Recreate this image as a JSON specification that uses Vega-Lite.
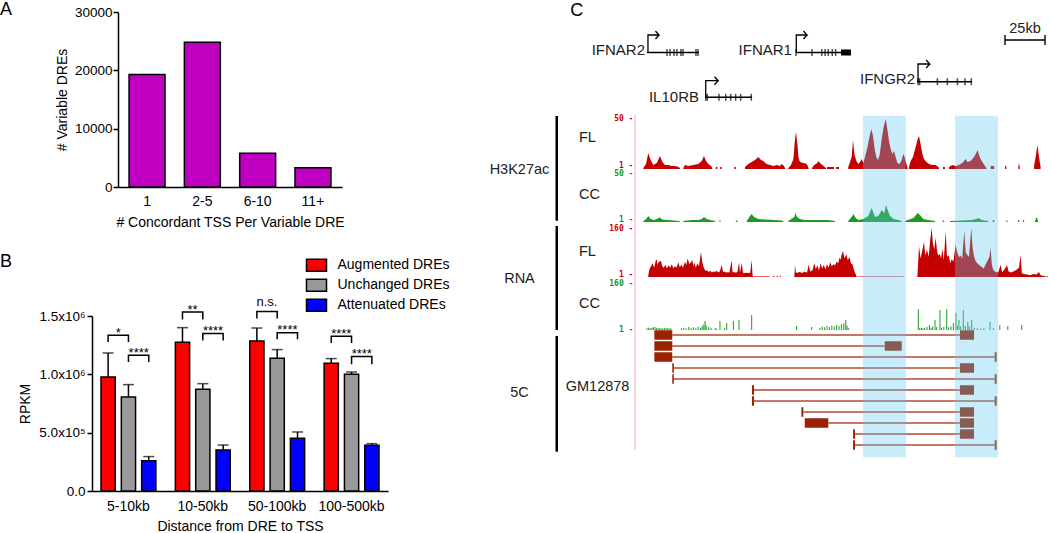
{
"$schema":"https://vega.github.io/schema/vega-lite/v6.json",
"padding":{"left":0,"top":0,"right":0,"bottom":0},
"background":"white",
"config":{"view":{"stroke":null},"font":"Liberation Sans","axis":{"labelFont":"Liberation Sans","titleFont":"Liberation Sans","labelColor":"black","titleColor":"black","domainColor":"black","tickColor":"black","titleFontWeight":"normal","grid":false}},
"datasets":{
"bars":[
{"d":"5-10kb","s":"Augmented DREs","v":977000,"hi":1183000},
{"d":"5-10kb","s":"Unchanged DREs","v":806000,"hi":912000},
{"d":"5-10kb","s":"Attenuated DREs","v":260000,"hi":295000},
{"d":"10-50kb","s":"Augmented DREs","v":1275000,"hi":1400000},
{"d":"10-50kb","s":"Unchanged DREs","v":872000,"hi":920000},
{"d":"10-50kb","s":"Attenuated DREs","v":351000,"hi":394000},
{"d":"50-100kb","s":"Augmented DREs","v":1286000,"hi":1397000},
{"d":"50-100kb","s":"Unchanged DREs","v":1137000,"hi":1212000},
{"d":"50-100kb","s":"Attenuated DREs","v":452000,"hi":506000},
{"d":"100-500kb","s":"Augmented DREs","v":1095000,"hi":1135000},
{"d":"100-500kb","s":"Unchanged DREs","v":1000000,"hi":1020000},
{"d":"100-500kb","s":"Attenuated DREs","v":392000,"hi":406000}],
"br":[
{"id":"a1","d":"5-10kb","s":"Augmented DREs","v":1277000,"o":1},{"id":"a1","d":"5-10kb","s":"Augmented DREs","v":1335000,"o":2},{"id":"a1","d":"5-10kb","s":"Unchanged DREs","v":1335000,"o":3},{"id":"a1","d":"5-10kb","s":"Unchanged DREs","v":1277000,"o":4},
{"id":"a2","d":"5-10kb","s":"Unchanged DREs","v":1106000,"o":1},{"id":"a2","d":"5-10kb","s":"Unchanged DREs","v":1163000,"o":2},{"id":"a2","d":"5-10kb","s":"Attenuated DREs","v":1163000,"o":3},{"id":"a2","d":"5-10kb","s":"Attenuated DREs","v":1106000,"o":4},
{"id":"b1","d":"10-50kb","s":"Augmented DREs","v":1470000,"o":1},{"id":"b1","d":"10-50kb","s":"Augmented DREs","v":1534000,"o":2},{"id":"b1","d":"10-50kb","s":"Unchanged DREs","v":1534000,"o":3},{"id":"b1","d":"10-50kb","s":"Unchanged DREs","v":1470000,"o":4},
{"id":"b2","d":"10-50kb","s":"Unchanged DREs","v":1290000,"o":1},{"id":"b2","d":"10-50kb","s":"Unchanged DREs","v":1349000,"o":2},{"id":"b2","d":"10-50kb","s":"Attenuated DREs","v":1349000,"o":3},{"id":"b2","d":"10-50kb","s":"Attenuated DREs","v":1290000,"o":4},
{"id":"c1","d":"50-100kb","s":"Augmented DREs","v":1478000,"o":1},{"id":"c1","d":"50-100kb","s":"Augmented DREs","v":1538000,"o":2},{"id":"c1","d":"50-100kb","s":"Unchanged DREs","v":1538000,"o":3},{"id":"c1","d":"50-100kb","s":"Unchanged DREs","v":1478000,"o":4},
{"id":"c2","d":"50-100kb","s":"Unchanged DREs","v":1300000,"o":1},{"id":"c2","d":"50-100kb","s":"Unchanged DREs","v":1357000,"o":2},{"id":"c2","d":"50-100kb","s":"Attenuated DREs","v":1357000,"o":3},{"id":"c2","d":"50-100kb","s":"Attenuated DREs","v":1300000,"o":4},
{"id":"d1","d":"100-500kb","s":"Augmented DREs","v":1269000,"o":1},{"id":"d1","d":"100-500kb","s":"Augmented DREs","v":1326000,"o":2},{"id":"d1","d":"100-500kb","s":"Unchanged DREs","v":1326000,"o":3},{"id":"d1","d":"100-500kb","s":"Unchanged DREs","v":1269000,"o":4},
{"id":"d2","d":"100-500kb","s":"Unchanged DREs","v":1086000,"o":1},{"id":"d2","d":"100-500kb","s":"Unchanged DREs","v":1152000,"o":2},{"id":"d2","d":"100-500kb","s":"Attenuated DREs","v":1152000,"o":3},{"id":"d2","d":"100-500kb","s":"Attenuated DREs","v":1086000,"o":4}],
"sigl":[
{"d":"5-10kb","b":1,"t":"*","v":1335000},{"d":"5-10kb","b":2,"t":"****","v":1163000},
{"d":"10-50kb","b":1,"t":"**","v":1534000},{"d":"10-50kb","b":2,"t":"****","v":1349000},
{"d":"50-100kb","b":1,"t":"n.s.","v":1538000},{"d":"50-100kb","b":2,"t":"****","v":1357000},
{"d":"100-500kb","b":1,"t":"****","v":1326000},{"d":"100-500kb","b":2,"t":"****","v":1152000}],
"sig":[
{"t":"a","g":1,"k":5.2,"v":1},{"t":"a","g":1,"k":6.9,"v":5},{"t":"a","g":1,"k":8.3,"v":16},{"t":"a","g":1,"k":9.8,"v":9},{"t":"a","g":1,"k":11.4,"v":4},{"t":"a","g":1,"k":13.6,"v":6},{"t":"a","g":1,"k":15.6,"v":13},{"t":"a","g":1,"k":17.1,"v":7},{"t":"a","g":1,"k":18.75,"v":4},{"t":"a","g":1,"k":20.8,"v":4},{"t":"a","g":1,"k":22.9,"v":3},{"t":"a","g":1,"k":25,"v":3},{"t":"a","g":1,"k":27.1,"v":2},{"t":"a","g":1,"k":28.1,"v":1},
{"t":"a","g":2,"k":30.2,"v":1},{"t":"a","g":2,"k":31.25,"v":4},{"t":"a","g":2,"k":33.3,"v":3},{"t":"a","g":2,"k":36.5,"v":4},{"t":"a","g":2,"k":39.6,"v":5},{"t":"a","g":2,"k":41.7,"v":8},{"t":"a","g":2,"k":43.1,"v":13},{"t":"a","g":2,"k":44.4,"v":8},{"t":"a","g":2,"k":45.8,"v":5},{"t":"a","g":2,"k":47.5,"v":3},{"t":"a","g":2,"k":48.3,"v":1},
{"t":"a","g":3,"k":50.5,"v":2},{"t":"a","g":3,"k":51.5,"v":2},
{"t":"a","g":4,"k":53.3,"v":2},{"t":"a","g":4,"k":54.3,"v":2},
{"t":"a","g":5,"k":62,"v":2},{"t":"a","g":5,"k":63,"v":2},
{"t":"a","g":6,"k":68.75,"v":2},{"t":"a","g":6,"k":70.8,"v":5},{"t":"a","g":6,"k":72.9,"v":7},{"t":"a","g":6,"k":75,"v":9},{"t":"a","g":6,"k":77.1,"v":12},{"t":"a","g":6,"k":78.75,"v":9},{"t":"a","g":6,"k":80.2,"v":8},{"t":"a","g":6,"k":82.3,"v":5},{"t":"a","g":6,"k":84.4,"v":4},{"t":"a","g":6,"k":86.5,"v":3},{"t":"a","g":6,"k":88.5,"v":4},{"t":"a","g":6,"k":90.6,"v":3},{"t":"a","g":6,"k":91.7,"v":5},{"t":"a","g":6,"k":93.1,"v":3},{"t":"a","g":6,"k":93.75,"v":1},
{"t":"a","g":7,"k":95.8,"v":1},{"t":"a","g":7,"k":97.5,"v":4},{"t":"a","g":7,"k":99,"v":10},{"t":"a","g":7,"k":100,"v":30},{"t":"a","g":7,"k":100.6,"v":37},{"t":"a","g":7,"k":101.5,"v":25},{"t":"a","g":7,"k":102.1,"v":12},{"t":"a","g":7,"k":103.1,"v":7},{"t":"a","g":7,"k":105.2,"v":6},{"t":"a","g":7,"k":107.3,"v":5},{"t":"a","g":7,"k":108.5,"v":1},
{"t":"a","g":8,"k":110.6,"v":1},{"t":"a","g":8,"k":112,"v":4},{"t":"a","g":8,"k":114,"v":6},{"t":"a","g":8,"k":114.6,"v":8},{"t":"a","g":8,"k":115.6,"v":6},{"t":"a","g":8,"k":117,"v":4},{"t":"a","g":8,"k":119.4,"v":1},
{"t":"a","g":9,"k":120,"v":2},{"t":"a","g":9,"k":124.4,"v":2},
{"t":"a","g":10,"k":125.6,"v":2},{"t":"a","g":10,"k":127.5,"v":2},
{"t":"a","g":11,"k":133.3,"v":2},{"t":"a","g":11,"k":134.2,"v":6},{"t":"a","g":11,"k":135.4,"v":12},{"t":"a","g":11,"k":136.25,"v":29},{"t":"a","g":11,"k":137.1,"v":15},{"t":"a","g":11,"k":138.3,"v":8},{"t":"a","g":11,"k":139.6,"v":5},{"t":"a","g":11,"k":140.6,"v":7},{"t":"a","g":11,"k":141.7,"v":10},{"t":"a","g":11,"k":142.7,"v":6},{"t":"a","g":11,"k":143.75,"v":12},{"t":"a","g":11,"k":145.2,"v":21},{"t":"a","g":11,"k":146.25,"v":30},{"t":"a","g":11,"k":147.7,"v":40},{"t":"a","g":11,"k":148.75,"v":33},{"t":"a","g":11,"k":149.8,"v":20},{"t":"a","g":11,"k":150.8,"v":12},{"t":"a","g":11,"k":151.9,"v":9},{"t":"a","g":11,"k":152.9,"v":14},{"t":"a","g":11,"k":154.2,"v":30},{"t":"a","g":11,"k":155.4,"v":42},{"t":"a","g":11,"k":156.7,"v":50},{"t":"a","g":11,"k":157.7,"v":40},{"t":"a","g":11,"k":158.75,"v":28},{"t":"a","g":11,"k":159.8,"v":20},{"t":"a","g":11,"k":160.8,"v":15},{"t":"a","g":11,"k":161.9,"v":18},{"t":"a","g":11,"k":162.9,"v":12},{"t":"a","g":11,"k":164,"v":6},{"t":"a","g":11,"k":165.4,"v":5},{"t":"a","g":11,"k":166.7,"v":9},{"t":"a","g":11,"k":167.7,"v":15},{"t":"a","g":11,"k":168.5,"v":12},{"t":"a","g":11,"k":169.8,"v":4},{"t":"a","g":11,"k":170.4,"v":1},
{"t":"a","g":12,"k":171.25,"v":2},{"t":"a","g":12,"k":172.3,"v":8},{"t":"a","g":12,"k":173.75,"v":12},{"t":"a","g":12,"k":175.4,"v":22},{"t":"a","g":12,"k":176.7,"v":30},{"t":"a","g":12,"k":177.5,"v":33},{"t":"a","g":12,"k":178.5,"v":25},{"t":"a","g":12,"k":179.6,"v":15},{"t":"a","g":12,"k":180.6,"v":10},{"t":"a","g":12,"k":182.1,"v":7},{"t":"a","g":12,"k":183.75,"v":5},{"t":"a","g":12,"k":185.8,"v":4},{"t":"a","g":12,"k":187.9,"v":4},{"t":"a","g":12,"k":189.6,"v":2},{"t":"a","g":12,"k":190,"v":1},
{"t":"a","g":13,"k":192.5,"v":2},{"t":"a","g":13,"k":193.7,"v":2},
{"t":"a","g":14,"k":196.25,"v":2},{"t":"a","g":14,"k":198.3,"v":4},{"t":"a","g":14,"k":200.4,"v":3},{"t":"a","g":14,"k":202.5,"v":4},{"t":"a","g":14,"k":204.6,"v":6},{"t":"a","g":14,"k":206.7,"v":10},{"t":"a","g":14,"k":207.7,"v":7},{"t":"a","g":14,"k":209.8,"v":8},{"t":"a","g":14,"k":211.9,"v":12},{"t":"a","g":14,"k":213.3,"v":16},{"t":"a","g":14,"k":214.2,"v":19},{"t":"a","g":14,"k":215,"v":14},{"t":"a","g":14,"k":216,"v":10},{"t":"a","g":14,"k":217.5,"v":6},{"t":"a","g":14,"k":218.75,"v":3},{"t":"a","g":14,"k":219.6,"v":1},
{"t":"a","g":15,"k":222.3,"v":3},{"t":"a","g":15,"k":224.5,"v":3},
{"t":"a","g":16,"k":231.3,"v":3},{"t":"a","g":16,"k":232.1,"v":3},
{"t":"a","g":17,"k":239.6,"v":2},{"t":"a","g":17,"k":240,"v":6},{"t":"a","g":17,"k":240.5,"v":2},
{"t":"a","g":18,"k":249.4,"v":3},{"t":"a","g":18,"k":250.4,"v":12},{"t":"a","g":18,"k":251.5,"v":24},{"t":"a","g":18,"k":252.5,"v":12},{"t":"a","g":18,"k":253.5,"v":2},
{"t":"b","g":1,"k":5.2,"v":1},{"t":"b","g":1,"k":7,"v":3},{"t":"b","g":1,"k":8.3,"v":6},{"t":"b","g":1,"k":9.8,"v":3},{"t":"b","g":1,"k":12,"v":2},{"t":"b","g":1,"k":15.6,"v":4.5},{"t":"b","g":1,"k":17,"v":2.5},{"t":"b","g":1,"k":20,"v":2},{"t":"b","g":1,"k":24,"v":1.5},{"t":"b","g":1,"k":28,"v":1},
{"t":"b","g":2,"k":30.2,"v":1},{"t":"b","g":2,"k":35.4,"v":2},{"t":"b","g":2,"k":39.6,"v":2},{"t":"b","g":2,"k":41.7,"v":3},{"t":"b","g":2,"k":43.1,"v":5},{"t":"b","g":2,"k":44.8,"v":3},{"t":"b","g":2,"k":46.9,"v":2},{"t":"b","g":2,"k":50,"v":1},
{"t":"b","g":3,"k":52.7,"v":1.5},{"t":"b","g":3,"k":53.5,"v":1.5},
{"t":"b","g":4,"k":63,"v":1.5},{"t":"b","g":4,"k":64,"v":1.5},
{"t":"b","g":5,"k":69.8,"v":1},{"t":"b","g":5,"k":71.9,"v":6},{"t":"b","g":5,"k":72.9,"v":8},{"t":"b","g":5,"k":74.4,"v":5},{"t":"b","g":5,"k":77.1,"v":3},{"t":"b","g":5,"k":81.25,"v":2.5},{"t":"b","g":5,"k":87.5,"v":2},{"t":"b","g":5,"k":91.7,"v":1.5},{"t":"b","g":5,"k":92.7,"v":1},
{"t":"b","g":6,"k":95.8,"v":1},{"t":"b","g":6,"k":99.6,"v":5},{"t":"b","g":6,"k":100.4,"v":9},{"t":"b","g":6,"k":101.25,"v":5},{"t":"b","g":6,"k":103.1,"v":3},{"t":"b","g":6,"k":106.25,"v":2},{"t":"b","g":6,"k":112.5,"v":2},{"t":"b","g":6,"k":116.7,"v":2},{"t":"b","g":6,"k":120.8,"v":2},{"t":"b","g":6,"k":125,"v":1},
{"t":"b","g":7,"k":133.3,"v":1},{"t":"b","g":7,"k":135.4,"v":5},{"t":"b","g":7,"k":136.5,"v":8},{"t":"b","g":7,"k":137.9,"v":4},{"t":"b","g":7,"k":139.6,"v":2},{"t":"b","g":7,"k":142.7,"v":3},{"t":"b","g":7,"k":145.8,"v":6},{"t":"b","g":7,"k":147.9,"v":14},{"t":"b","g":7,"k":148.9,"v":10},{"t":"b","g":7,"k":150,"v":5},{"t":"b","g":7,"k":152.1,"v":6},{"t":"b","g":7,"k":154.2,"v":12},{"t":"b","g":7,"k":155.8,"v":9},{"t":"b","g":7,"k":156.9,"v":17},{"t":"b","g":7,"k":157.9,"v":12},{"t":"b","g":7,"k":159.4,"v":6},{"t":"b","g":7,"k":161.5,"v":3},{"t":"b","g":7,"k":164.6,"v":2},{"t":"b","g":7,"k":166.7,"v":1},
{"t":"b","g":8,"k":168.75,"v":1},{"t":"b","g":8,"k":174,"v":4},{"t":"b","g":8,"k":176.7,"v":9},{"t":"b","g":8,"k":178.1,"v":7},{"t":"b","g":8,"k":180.2,"v":3},{"t":"b","g":8,"k":183.3,"v":2},{"t":"b","g":8,"k":187.5,"v":1},
{"t":"b","g":9,"k":192.3,"v":1.5},{"t":"b","g":9,"k":193.2,"v":1.5},
{"t":"b","g":10,"k":196.9,"v":1},{"t":"b","g":10,"k":204.2,"v":1.5},{"t":"b","g":10,"k":210.4,"v":2},{"t":"b","g":10,"k":213.5,"v":3},{"t":"b","g":10,"k":214.6,"v":4},{"t":"b","g":10,"k":216.7,"v":2},{"t":"b","g":10,"k":220.8,"v":1},
{"t":"b","g":11,"k":223.6,"v":2},{"t":"b","g":11,"k":224.6,"v":2},
{"t":"b","g":12,"k":232,"v":1.5},{"t":"b","g":12,"k":232.8,"v":1.5},
{"t":"b","g":13,"k":239.3,"v":2},{"t":"b","g":13,"k":240.1,"v":2},
{"t":"b","g":14,"k":242.4,"v":2},{"t":"b","g":14,"k":243.2,"v":2},
{"t":"b","g":15,"k":250,"v":1},{"t":"b","g":15,"k":251,"v":5},{"t":"b","g":15,"k":252,"v":1},
{"t":"r","g":1,"k":8.3,"v":5},{"t":"r","g":1,"k":9,"v":25},{"t":"r","g":1,"k":10,"v":35},{"t":"r","g":1,"k":11,"v":45},{"t":"r","g":1,"k":12,"v":30},{"t":"r","g":1,"k":13,"v":55},{"t":"r","g":1,"k":13.5,"v":58},{"t":"r","g":1,"k":14,"v":40},{"t":"r","g":1,"k":15,"v":50},{"t":"r","g":1,"k":16.25,"v":52},{"t":"r","g":1,"k":17,"v":35},{"t":"r","g":1,"k":18,"v":30},{"t":"r","g":1,"k":19,"v":40},{"t":"r","g":1,"k":20,"v":28},{"t":"r","g":1,"k":21,"v":38},{"t":"r","g":1,"k":22,"v":30},{"t":"r","g":1,"k":23,"v":42},{"t":"r","g":1,"k":24,"v":28},{"t":"r","g":1,"k":25,"v":36},{"t":"r","g":1,"k":26,"v":30},{"t":"r","g":1,"k":27.1,"v":48},{"t":"r","g":1,"k":28,"v":32},{"t":"r","g":1,"k":29,"v":40},{"t":"r","g":1,"k":30,"v":30},{"t":"r","g":1,"k":31.25,"v":50},{"t":"r","g":1,"k":32,"v":38},{"t":"r","g":1,"k":32.9,"v":60},{"t":"r","g":1,"k":34,"v":42},{"t":"r","g":1,"k":35,"v":48},{"t":"r","g":1,"k":35.8,"v":56},{"t":"r","g":1,"k":36.5,"v":35},{"t":"r","g":1,"k":37,"v":48},{"t":"r","g":1,"k":38,"v":30},{"t":"r","g":1,"k":39,"v":45},{"t":"r","g":1,"k":40,"v":35},{"t":"r","g":1,"k":41.25,"v":82},{"t":"r","g":1,"k":42,"v":50},{"t":"r","g":1,"k":43,"v":30},{"t":"r","g":1,"k":44,"v":20},{"t":"r","g":1,"k":45,"v":22},{"t":"r","g":1,"k":46,"v":16},{"t":"r","g":1,"k":47,"v":20},{"t":"r","g":1,"k":48,"v":15},{"t":"r","g":1,"k":49,"v":18},{"t":"r","g":1,"k":50,"v":16},{"t":"r","g":1,"k":51,"v":20},{"t":"r","g":1,"k":52,"v":15},{"t":"r","g":1,"k":53,"v":18},{"t":"r","g":1,"k":54.2,"v":40},{"t":"r","g":1,"k":55,"v":16},{"t":"r","g":1,"k":56,"v":18},{"t":"r","g":1,"k":57,"v":14},{"t":"r","g":1,"k":58,"v":16},{"t":"r","g":1,"k":59,"v":14},{"t":"r","g":1,"k":60.4,"v":55},{"t":"r","g":1,"k":61,"v":15},{"t":"r","g":1,"k":62,"v":16},{"t":"r","g":1,"k":63,"v":14},{"t":"r","g":1,"k":64,"v":16},{"t":"r","g":1,"k":65,"v":48},{"t":"r","g":1,"k":65.6,"v":14},{"t":"r","g":1,"k":66.7,"v":45},{"t":"r","g":1,"k":67.5,"v":14},{"t":"r","g":1,"k":68.5,"v":13},{"t":"r","g":1,"k":70,"v":14},{"t":"r","g":1,"k":71,"v":13},{"t":"r","g":1,"k":72,"v":14},{"t":"r","g":1,"k":72.9,"v":55},{"t":"r","g":1,"k":73.5,"v":5},{"t":"r","g":1,"k":73.9,"v":2},
{"t":"r","g":2,"k":74,"v":2},{"t":"r","g":2,"k":84,"v":2},
{"t":"r","g":3,"k":86.5,"v":3},{"t":"r","g":3,"k":87.2,"v":3},
{"t":"r","g":4,"k":88.5,"v":3},{"t":"r","g":4,"k":89.2,"v":3},
{"t":"r","g":5,"k":90.5,"v":3},{"t":"r","g":5,"k":91.2,"v":3},
{"t":"r","g":6,"k":99.6,"v":3},{"t":"r","g":6,"k":100,"v":40},{"t":"r","g":6,"k":100.5,"v":15},{"t":"r","g":6,"k":101.5,"v":14},{"t":"r","g":6,"k":103,"v":16},{"t":"r","g":6,"k":104.5,"v":13},{"t":"r","g":6,"k":106,"v":18},{"t":"r","g":6,"k":107.5,"v":14},{"t":"r","g":6,"k":108.5,"v":40},{"t":"r","g":6,"k":109.5,"v":18},{"t":"r","g":6,"k":111,"v":22},{"t":"r","g":6,"k":112,"v":45},{"t":"r","g":6,"k":113,"v":25},{"t":"r","g":6,"k":114,"v":38},{"t":"r","g":6,"k":115,"v":22},{"t":"r","g":6,"k":116,"v":45},{"t":"r","g":6,"k":117,"v":28},{"t":"r","g":6,"k":118,"v":40},{"t":"r","g":6,"k":119,"v":25},{"t":"r","g":6,"k":120,"v":42},{"t":"r","g":6,"k":121,"v":30},{"t":"r","g":6,"k":122,"v":48},{"t":"r","g":6,"k":123,"v":35},{"t":"r","g":6,"k":124,"v":42},{"t":"r","g":6,"k":125,"v":38},{"t":"r","g":6,"k":126,"v":50},{"t":"r","g":6,"k":127,"v":45},{"t":"r","g":6,"k":128,"v":65},{"t":"r","g":6,"k":128.5,"v":55},{"t":"r","g":6,"k":129,"v":70},{"t":"r","g":6,"k":130,"v":85},{"t":"r","g":6,"k":131,"v":60},{"t":"r","g":6,"k":132,"v":75},{"t":"r","g":6,"k":133,"v":55},{"t":"r","g":6,"k":134,"v":65},{"t":"r","g":6,"k":135,"v":45},{"t":"r","g":6,"k":136,"v":40},{"t":"r","g":6,"k":137,"v":20},{"t":"r","g":6,"k":138,"v":8},{"t":"r","g":6,"k":138.5,"v":2},
{"t":"r","g":7,"k":139,"v":2},{"t":"r","g":7,"k":168,"v":2},
{"t":"r","g":8,"k":176.5,"v":3},{"t":"r","g":8,"k":177.5,"v":100},{"t":"r","g":8,"k":178.5,"v":60},{"t":"r","g":8,"k":179.5,"v":85},{"t":"r","g":8,"k":180.6,"v":115},{"t":"r","g":8,"k":181.5,"v":70},{"t":"r","g":8,"k":182.5,"v":90},{"t":"r","g":8,"k":183.5,"v":65},{"t":"r","g":8,"k":184.5,"v":120},{"t":"r","g":8,"k":185.4,"v":160},{"t":"r","g":8,"k":186.2,"v":110},{"t":"r","g":8,"k":187,"v":90},{"t":"r","g":8,"k":187.9,"v":128},{"t":"r","g":8,"k":188.8,"v":85},{"t":"r","g":8,"k":189.5,"v":70},{"t":"r","g":8,"k":190.5,"v":75},{"t":"r","g":8,"k":191.3,"v":60},{"t":"r","g":8,"k":192.1,"v":92},{"t":"r","g":8,"k":193,"v":55},{"t":"r","g":8,"k":194.2,"v":150},{"t":"r","g":8,"k":195,"v":65},{"t":"r","g":8,"k":196,"v":72},{"t":"r","g":8,"k":197,"v":45},{"t":"r","g":8,"k":198,"v":58},{"t":"r","g":8,"k":199,"v":50},{"t":"r","g":8,"k":200.4,"v":105},{"t":"r","g":8,"k":201.4,"v":80},{"t":"r","g":8,"k":202.5,"v":65},{"t":"r","g":8,"k":203.5,"v":70},{"t":"r","g":8,"k":204.5,"v":60},{"t":"r","g":8,"k":205.8,"v":150},{"t":"r","g":8,"k":206.7,"v":80},{"t":"r","g":8,"k":207.7,"v":72},{"t":"r","g":8,"k":208.7,"v":65},{"t":"r","g":8,"k":210.2,"v":160},{"t":"r","g":8,"k":211,"v":95},{"t":"r","g":8,"k":212,"v":65},{"t":"r","g":8,"k":213,"v":50},{"t":"r","g":8,"k":214,"v":45},{"t":"r","g":8,"k":215,"v":40},{"t":"r","g":8,"k":216,"v":35},{"t":"r","g":8,"k":217,"v":32},{"t":"r","g":8,"k":218,"v":28},{"t":"r","g":8,"k":219,"v":40},{"t":"r","g":8,"k":220,"v":50},{"t":"r","g":8,"k":221.5,"v":65},{"t":"r","g":8,"k":222.3,"v":95},{"t":"r","g":8,"k":223,"v":40},{"t":"r","g":8,"k":224,"v":22},{"t":"r","g":8,"k":225.5,"v":16},{"t":"r","g":8,"k":227,"v":15},{"t":"r","g":8,"k":228.5,"v":40},{"t":"r","g":8,"k":229.5,"v":15},{"t":"r","g":8,"k":231,"v":25},{"t":"r","g":8,"k":232.5,"v":38},{"t":"r","g":8,"k":233.5,"v":18},{"t":"r","g":8,"k":235,"v":15},{"t":"r","g":8,"k":236.5,"v":18},{"t":"r","g":8,"k":238,"v":22},{"t":"r","g":8,"k":240,"v":30},{"t":"r","g":8,"k":241,"v":72},{"t":"r","g":8,"k":241.8,"v":12},{"t":"r","g":8,"k":243,"v":10},{"t":"r","g":8,"k":245,"v":8},{"t":"r","g":8,"k":247,"v":6},{"t":"r","g":8,"k":249,"v":10},{"t":"r","g":8,"k":251,"v":8},{"t":"r","g":8,"k":252.5,"v":16},{"t":"r","g":8,"k":253.5,"v":6},{"t":"r","g":8,"k":255,"v":4},{"t":"r","g":8,"k":257,"v":2},
{"t":"r","g":9,"k":257.5,"v":3},{"t":"r","g":9,"k":258.2,"v":3}],
"rnacc":[
{"k":7.5,"v":6},{"k":8.5,"v":8},{"k":9.5,"v":6},{"k":10.5,"v":7},{"k":11.5,"v":9},{"k":12.5,"v":10},{"k":13.5,"v":8},{"k":14.5,"v":6},{"k":15.5,"v":7},{"k":16.5,"v":5},{"k":17.5,"v":6},{"k":18.5,"v":8},{"k":19.5,"v":6},{"k":20.5,"v":7},{"k":21.5,"v":5},{"k":22.5,"v":6},
{"k":29,"v":6},{"k":30.5,"v":8},{"k":32,"v":6},{"k":33.5,"v":10},{"k":35,"v":7},{"k":36.5,"v":9},{"k":38,"v":6},{"k":39.5,"v":11},{"k":41,"v":8},{"k":42,"v":14},{"k":43,"v":20},{"k":43.8,"v":31},{"k":44.5,"v":15},{"k":46,"v":10},{"k":47.5,"v":8},
{"k":50,"v":6},{"k":51,"v":5},{"k":53.1,"v":31},{"k":56,"v":6},{"k":57.3,"v":25},{"k":61.5,"v":31},{"k":65,"v":34},{"k":72.9,"v":51},
{"k":101,"v":14},{"k":110.4,"v":10},{"k":115.6,"v":8},{"k":117,"v":12},{"k":118.5,"v":9},{"k":120,"v":14},{"k":121.5,"v":10},{"k":123,"v":15},{"k":124.5,"v":12},{"k":126,"v":17},{"k":127.5,"v":14},{"k":129,"v":20},{"k":130.5,"v":22},{"k":131.7,"v":34},{"k":132.5,"v":15},{"k":133.3,"v":8},
{"k":177.1,"v":71},{"k":178,"v":8},{"k":179,"v":7},{"k":180,"v":6},{"k":181,"v":7},{"k":182.5,"v":10},{"k":184,"v":17},{"k":185,"v":8},{"k":186,"v":12},{"k":187.5,"v":34},{"k":188.5,"v":10},{"k":190.6,"v":68},{"k":191.5,"v":8},{"k":193,"v":10},{"k":194.8,"v":71},{"k":196,"v":9},{"k":197.5,"v":12},{"k":199,"v":24},{"k":200.6,"v":59},{"k":201.5,"v":15},{"k":202.5,"v":34},{"k":203.5,"v":12},{"k":205.2,"v":68},{"k":206.5,"v":14},{"k":208,"v":27},{"k":209,"v":12},{"k":210.4,"v":34},{"k":212,"v":8},{"k":214,"v":6},{"k":216,"v":5},{"k":218,"v":6},{"k":221.9,"v":27},{"k":224,"v":6},{"k":228,"v":17},{"k":233,"v":14},{"k":241.7,"v":17}],
"anch":[
{"r":1,"k":12.1,"k2":23.3},{"r":1,"k":203.1,"k2":211.9},{"r":2,"k":12.1,"k2":23.3},{"r":2,"k":156.1,"k2":166.7},{"r":3,"k":12.1,"k2":23.3},{"r":3,"k":224.8,"k2":226},
{"r":4,"k":23.3,"k2":24.3},{"r":4,"k":203.1,"k2":211.9},{"r":5,"k":23.3,"k2":24.3},{"r":5,"k":224.8,"k2":226},{"r":6,"k":73.1,"k2":74.4},{"r":6,"k":203.1,"k2":211.9},
{"r":7,"k":73.1,"k2":74.4},{"r":7,"k":224.8,"k2":226},{"r":8,"k":104,"k2":105.2},{"r":8,"k":203.1,"k2":211.9},{"r":9,"k":106.1,"k2":120.8},{"r":9,"k":203.1,"k2":211.9},
{"r":10,"k":136.3,"k2":137.5},{"r":10,"k":203.1,"k2":211.9},{"r":11,"k":136.3,"k2":137.5},{"r":11,"k":224.8,"k2":226}],
"links":[
{"r":1,"k":23.3,"k2":203.1},{"r":2,"k":23.3,"k2":156.1},{"r":3,"k":23.3,"k2":224.8},{"r":4,"k":24.3,"k2":203.1},{"r":5,"k":24.3,"k2":224.8},{"r":6,"k":74.4,"k2":203.1},
{"r":7,"k":74.4,"k2":224.8},{"r":8,"k":105.2,"k2":203.1},{"r":9,"k":120.8,"k2":203.1},{"r":10,"k":137.5,"k2":203.1},{"r":11,"k":137.5,"k2":224.8}],
"genes":[
{"k":7.5,"k2":40,"l":4.95},{"k":100.6,"k2":135,"l":4.95},{"k":43.75,"k2":73.1,"l":9.43},{"k":176.25,"k2":210.6,"l":7.87},{"k":231.25,"k2":256.25,"l":3.7}],
"exons":[
{"k":20,"l":4.95},{"k":21.9,"l":4.95},{"k":24.4,"l":4.95},{"k":26.2,"l":4.95},{"k":28.7,"l":4.95},{"k":30,"l":4.95},{"k":38.1,"l":4.95},{"k":39.4,"l":4.95},
{"k":100.6,"l":4.95},{"k":110.6,"l":4.95},{"k":116.7,"l":4.95},{"k":118.8,"l":4.95},{"k":120.8,"l":4.95},{"k":123.3,"l":4.95},{"k":125.4,"l":4.95},
{"k":44.2,"l":9.43},{"k":45.2,"l":9.43},{"k":52.5,"l":9.43},{"k":56.7,"l":9.43},{"k":59.8,"l":9.43},{"k":62.9,"l":9.43},{"k":66,"l":9.43},{"k":72.7,"l":9.43},
{"k":176.9,"l":7.87},{"k":177.9,"l":7.87},{"k":189,"l":7.87},{"k":195.2,"l":7.87},{"k":201.5,"l":7.87},{"k":206.25,"l":7.87},{"k":210.2,"l":7.87}],
"arrows":[
{"g":"IFNAR2","o":1,"k":8.1,"l":4.95},{"g":"IFNAR2","o":2,"k":8.1,"l":3.2},{"g":"IFNAR2","o":3,"k":15,"l":3.2},{"g":"IFNAR2","o":4,"k":12.8,"l":2.8},{"g":"IFNAR2","o":5,"k":15,"l":3.2},{"g":"IFNAR2","o":6,"k":12.8,"l":3.6},
{"g":"IFNAR1","o":1,"k":100.8,"l":4.95},{"g":"IFNAR1","o":2,"k":100.8,"l":3.2},{"g":"IFNAR1","o":3,"k":107.5,"l":3.2},{"g":"IFNAR1","o":4,"k":105.3,"l":2.8},{"g":"IFNAR1","o":5,"k":107.5,"l":3.2},{"g":"IFNAR1","o":6,"k":105.3,"l":3.6},
{"g":"IL10RB","o":1,"k":44.2,"l":9.43},{"g":"IL10RB","o":2,"k":44.2,"l":7.77},{"g":"IL10RB","o":3,"k":51.9,"l":7.77},{"g":"IL10RB","o":4,"k":49.7,"l":7.37},{"g":"IL10RB","o":5,"k":51.9,"l":7.77},{"g":"IL10RB","o":6,"k":49.7,"l":8.17},
{"g":"IFNGR2","o":1,"k":176.9,"l":7.87},{"g":"IFNGR2","o":2,"k":176.9,"l":6.1},{"g":"IFNGR2","o":3,"k":184.2,"l":6.1},{"g":"IFNGR2","o":4,"k":182,"l":5.7},{"g":"IFNGR2","o":5,"k":184.2,"l":6.1},{"g":"IFNGR2","o":6,"k":182,"l":6.5}],
"ticklab":[{"k":-1,"l":11.6,"t":"50 -","c":"FL"},{"k":-1,"l":16.26,"t":"1 -","c":"FL"},{"k":-1,"l":17.08,"t":"50 -","c":"CC"},{"k":-1,"l":21.74,"t":"1 -","c":"CC"},{"k":-1,"l":22.57,"t":"160 -","c":"FL"},{"k":-1,"l":27.23,"t":"1 -","c":"FL"},{"k":-1,"l":28.07,"t":"160 -","c":"CC"},{"k":-1,"l":32.7,"t":"1 -","c":"CC"}]
},
"resolve":{"scale":{"color":"independent"},"legend":{"color":"independent"}},
"spacing":38,
"hconcat":[
{"spacing":24,"resolve":{"scale":{"color":"independent"},"legend":{"color":"independent"}},"vconcat":[
{"width":250,"height":175,
"title":{"text":"A","anchor":"start","frame":"group","dx":-92,"dy":13.8,"offset":0,"fontSize":18,"fontWeight":"normal","color":"black","font":"Liberation Sans"},
"data":{"values":[{"c":"1","n":19300},{"c":"2-5","n":24800},{"c":"6-10","n":5800},{"c":"11+","n":3300}]},
"mark":{"type":"bar","fill":"#c000c0","stroke":"black","strokeWidth":1.5},
"encoding":{
"x":{"field":"c","type":"nominal","sort":null,"scale":{"range":[26,250],"paddingInner":0.35,"paddingOuter":0.2},"axis":{"title":"# Concordant TSS Per Variable DRE","labelAngle":0,"ticks":false,"domainWidth":1.5,"labelFontSize":14,"titleFontSize":14,"labelPadding":7,"titlePadding":7}},
"y":{"field":"n","type":"quantitative","scale":{"domain":[0,30000],"nice":false},"axis":{"title":"# Variable DREs","offset":-26,"values":[0,10000,20000,30000],"format":"d","domainWidth":1.5,"tickWidth":1.5,"tickSize":5,"labelPadding":1,"labelFontSize":13.5,"titleFontSize":14,"titlePadding":5}}
}},
{"width":296,"height":175,
"title":{"text":"B","anchor":"start","frame":"group","dx":-92,"dy":16.9,"offset":0,"fontSize":18,"fontWeight":"normal","color":"black","font":"Liberation Sans"},
"layer":[
{"data":{"name":"bars"},"mark":{"type":"bar","stroke":"black","strokeWidth":1.5},
"encoding":{
"x":{"field":"d","type":"nominal","scale":{"domain":["5-10kb","10-50kb","50-100kb","100-500kb"],"paddingInner":0.262,"paddingOuter":0.121},"axis":{"title":"Distance from DRE to TSS","labelAngle":0,"ticks":false,"domainWidth":1.5,"labelFontSize":14,"titleFontSize":14,"labelPadding":8,"titlePadding":6}},
"xOffset":{"field":"s","type":"nominal","scale":{"domain":["Augmented DREs","Unchanged DREs","Attenuated DREs"],"paddingInner":0.3,"paddingOuter":0}},
"y":{"field":"v","type":"quantitative","scale":{"domain":[0,1500000],"nice":false},"axis":{"title":"RPKM","values":[0,500000,1000000,1500000],"labelExpr":"datum.value==0?'0.0':datum.value==500000?'5.0x10⁵':datum.value==1000000?'1.0x10⁶':'1.5x10⁶'","domainWidth":1.5,"tickWidth":1.5,"tickSize":5,"labelPadding":2,"labelFontSize":13.5,"titleFontSize":14,"titlePadding":6}},
"color":{"field":"s","type":"nominal","scale":{"domain":["Augmented DREs","Unchanged DREs","Attenuated DREs"],"range":["#ff0000","#999999","#0000ff"]},"legend":{"title":null,"orient":"none","legendX":213.5,"legendY":-61.7,"symbolType":"M-1,-0.6H1V0.6H-1Z","symbolSize":400,"symbolStrokeColor":"black","symbolStrokeWidth":1.5,"symbolOpacity":1,"labelFontSize":14,"labelOffset":10,"rowPadding":0,"padding":0,"labelColor":"black","labelFont":"Liberation Sans"}}
}},
{"data":{"name":"bars"},"mark":{"type":"rule","strokeWidth":1.5,"color":"black"},
"encoding":{"x":{"field":"d","type":"nominal"},"xOffset":{"field":"s","type":"nominal"},"y":{"field":"v","type":"quantitative"},"y2":{"field":"hi"}}},
{"data":{"name":"bars"},"mark":{"type":"tick","thickness":1.5,"size":11,"color":"black","orient":"horizontal"},
"encoding":{"x":{"field":"d","type":"nominal"},"xOffset":{"field":"s","type":"nominal"},"y":{"field":"hi","type":"quantitative"}}},
{"data":{"name":"br"},"mark":{"type":"line","strokeWidth":1.5,"color":"black"},
"encoding":{"x":{"field":"d","type":"nominal"},"xOffset":{"field":"s","type":"nominal"},"y":{"field":"v","type":"quantitative"},"detail":{"field":"id"},"order":{"field":"o"}}},
{"data":{"name":"sigl"},"transform":[{"filter":"datum.b==1 && datum.t!='n.s.'"}],"mark":{"type":"text","dx":-10.25,"dy":1.5,"baseline":"alphabetic","fontSize":13,"color":"black"},
"encoding":{"x":{"field":"d","type":"nominal"},"xOffset":{"datum":"Unchanged DREs"},"y":{"field":"v","type":"quantitative"},"text":{"field":"t"}}},
{"data":{"name":"sigl"},"transform":[{"filter":"datum.t=='n.s.'"}],"mark":{"type":"text","dx":-10.25,"dy":-5.6,"baseline":"alphabetic","fontSize":13,"color":"black"},
"encoding":{"x":{"field":"d","type":"nominal"},"xOffset":{"datum":"Unchanged DREs"},"y":{"field":"v","type":"quantitative"},"text":{"field":"t"}}},
{"data":{"name":"sigl"},"transform":[{"filter":"datum.b==2"}],"mark":{"type":"text","dx":10.25,"dy":1.5,"baseline":"alphabetic","fontSize":13,"color":"black"},
"encoding":{"x":{"field":"d","type":"nominal"},"xOffset":{"datum":"Unchanged DREs"},"y":{"field":"v","type":"quantitative"},"text":{"field":"t"}}}
]}
]},
{"width":560,"height":521,
"resolve":{"scale":{"y":"independent"}},
"layer":[
{"data":{"values":[{"k":0,"l":11.2,"l2":44.7}]},"mark":{"type":"rule","color":"#f5b8b8","strokeWidth":1.2},
"encoding":{"x":{"field":"k","type":"quantitative","scale":{"domain":[-91.25,258.75],"nice":false,"zero":false},"axis":null},"y":{"field":"l","type":"quantitative","scale":{"domain":[0.9,53],"reverse":true,"nice":false,"zero":false},"axis":null},"y2":{"field":"l2"}}},
{"data":{"values":[{"k":-48.9,"l":11.3,"l2":21.77},{"k":-48.9,"l":22.3,"l2":32.7},{"k":-48.9,"l":33.3,"l2":44.87}]},"mark":{"type":"rule","color":"black","strokeWidth":2.5},
"encoding":{"x":{"field":"k","type":"quantitative","scale":{"domain":[-91.25,258.75],"nice":false,"zero":false},"axis":null},"y":{"field":"l","type":"quantitative","scale":{"domain":[0.9,53],"reverse":true,"nice":false,"zero":false},"axis":null},"y2":{"field":"l2"}}},
{"data":{"values":[{"k":-72.2,"l":16.7,"t":"H3K27ac"},{"k":-72.2,"l":27.6,"t":"RNA"},{"k":-72.2,"l":38.97,"t":"5C"},{"k":243.75,"l":2.6,"t":"25kb"}]},"mark":{"type":"text","align":"center","baseline":"middle","fontSize":14.5,"color":"#222222"},
"encoding":{"x":{"field":"k","type":"quantitative","scale":{"domain":[-91.25,258.75],"nice":false,"zero":false},"axis":null},"y":{"field":"l","type":"quantitative","scale":{"domain":[0.9,53],"reverse":true,"nice":false,"zero":false},"axis":null},"text":{"field":"t"}}},
{"data":{"values":[{"k":-35,"l":13.47,"t":"FL"},{"k":-35,"l":19.2,"t":"CC"},{"k":-35,"l":24.87,"t":"FL"},{"k":-35,"l":30.1,"t":"CC"},{"k":-43.3,"l":38.43,"t":"GM12878"}]},"mark":{"type":"text","align":"left","baseline":"middle","fontSize":14.5,"color":"#222222"},
"encoding":{"x":{"field":"k","type":"quantitative","scale":{"domain":[-91.25,258.75],"nice":false,"zero":false},"axis":null},"y":{"field":"l","type":"quantitative","scale":{"domain":[0.9,53],"reverse":true,"nice":false,"zero":false},"axis":null},"text":{"field":"t"}}},
{"data":{"values":[{"k":-40.5,"l":0.75,"t":"C"}]},"mark":{"type":"text","align":"left","baseline":"middle","fontSize":18,"color":"black"},
"encoding":{"x":{"field":"k","type":"quantitative","scale":{"domain":[-91.25,258.75],"nice":false,"zero":false},"axis":null},"y":{"field":"l","type":"quantitative","scale":{"domain":[0.9,53],"reverse":true,"nice":false,"zero":false},"axis":null},"text":{"field":"t"}}},
{"data":{"name":"ticklab"},"transform":[{"filter":"datum.c=='FL'"}],
"mark":{"type":"text","align":"right","baseline":"middle","fontSize":8,"font":"DejaVu Sans Mono","fontWeight":"bold","color":"#cc0000"},
"encoding":{"x":{"field":"k","type":"quantitative","scale":{"domain":[-91.25,258.75],"nice":false,"zero":false},"axis":null},"y":{"field":"l","type":"quantitative","scale":{"domain":[0.9,53],"reverse":true,"nice":false,"zero":false},"axis":null},"text":{"field":"t"}}},
{"data":{"name":"ticklab"},"transform":[{"filter":"datum.c=='CC'"}],
"mark":{"type":"text","align":"right","baseline":"middle","fontSize":8,"font":"DejaVu Sans Mono","fontWeight":"bold","color":"#119911"},
"encoding":{"x":{"field":"k","type":"quantitative","scale":{"domain":[-91.25,258.75],"nice":false,"zero":false},"axis":null},"y":{"field":"l","type":"quantitative","scale":{"domain":[0.9,53],"reverse":true,"nice":false,"zero":false},"axis":null},"text":{"field":"t"}}},
{"data":{"name":"sig"},"transform":[{"filter":"datum.t=='a'"}],"mark":{"type":"area","color":"#c40000","interpolate":"linear"},
"encoding":{"x":{"field":"k","type":"quantitative","scale":{"domain":[-91.25,258.75],"nice":false,"zero":false},"axis":null},"y":{"field":"v","type":"quantitative","stack":null,"scale":{"domain":[-364,157],"nice":false,"zero":false},"axis":null},"y2":{"datum":0},"detail":{"field":"g"}}},
{"data":{"name":"sig"},"transform":[{"filter":"datum.t=='b'"}],"mark":{"type":"area","color":"#1e9a1e","interpolate":"linear"},
"encoding":{"x":{"field":"k","type":"quantitative","scale":{"domain":[-91.25,258.75],"nice":false,"zero":false},"axis":null},"y":{"field":"v","type":"quantitative","stack":null,"scale":{"domain":[-311,210],"nice":false,"zero":false},"axis":null},"y2":{"datum":0},"detail":{"field":"g"}}},
{"data":{"name":"sig"},"transform":[{"filter":"datum.t=='r'"}],"mark":{"type":"area","color":"#c40000","interpolate":"linear"},
"encoding":{"x":{"field":"k","type":"quantitative","scale":{"domain":[-91.25,258.75],"nice":false,"zero":false},"axis":null},"y":{"field":"v","type":"quantitative","stack":null,"scale":{"domain":[-835.92,865.3],"nice":false,"zero":false},"axis":null},"y2":{"datum":0},"detail":{"field":"g"}}},
{"data":{"name":"rnacc"},"mark":{"type":"rule","color":"#2ea82e","strokeWidth":1.1},
"encoding":{"x":{"field":"k","type":"quantitative","scale":{"domain":[-91.25,258.75],"nice":false,"zero":false},"axis":null},"y":{"field":"v","type":"quantitative","scale":{"domain":[-691.06,1082.56],"nice":false,"zero":false},"axis":null},"y2":{"datum":0}}},
{"data":{"name":"links"},"mark":{"type":"rule","color":"#b04a35","strokeWidth":1.5},
"encoding":{"x":{"field":"k","type":"quantitative","scale":{"domain":[-91.25,258.75],"nice":false,"zero":false},"axis":null},"x2":{"field":"k2"},"y":{"field":"r","type":"quantitative","scale":{"domain":[-28.3636,19],"reverse":true,"nice":false,"zero":false},"axis":null}}},
{"data":{"name":"anch"},"mark":{"type":"rule","color":"#992200","strokeWidth":9.5,"strokeCap":"butt"},
"encoding":{"x":{"field":"k","type":"quantitative","scale":{"domain":[-91.25,258.75],"nice":false,"zero":false},"axis":null},"x2":{"field":"k2"},"y":{"field":"r","type":"quantitative","scale":{"domain":[-28.3636,19],"reverse":true,"nice":false,"zero":false},"axis":null}}},
{"data":{"name":"genes"},"mark":{"type":"rule","color":"black","strokeWidth":1.6},
"encoding":{"x":{"field":"k","type":"quantitative","scale":{"domain":[-91.25,258.75],"nice":false,"zero":false},"axis":null},"x2":{"field":"k2"},"y":{"field":"l","type":"quantitative","scale":{"domain":[0.9,53],"reverse":true,"nice":false,"zero":false},"axis":null}}},
{"data":{"values":[{"k":128.75,"k2":135,"l":4.95}]},"mark":{"type":"rule","color":"black","strokeWidth":6,"strokeCap":"butt"},
"encoding":{"x":{"field":"k","type":"quantitative","scale":{"domain":[-91.25,258.75],"nice":false,"zero":false},"axis":null},"x2":{"field":"k2"},"y":{"field":"l","type":"quantitative","scale":{"domain":[0.9,53],"reverse":true,"nice":false,"zero":false},"axis":null}}},
{"data":{"name":"exons"},"mark":{"type":"tick","orient":"vertical","size":7,"thickness":1.5,"color":"black"},
"encoding":{"x":{"field":"k","type":"quantitative","scale":{"domain":[-91.25,258.75],"nice":false,"zero":false},"axis":null},"y":{"field":"l","type":"quantitative","scale":{"domain":[0.9,53],"reverse":true,"nice":false,"zero":false},"axis":null}}},
{"data":{"values":[{"k":231.25,"l":3.7},{"k":256.25,"l":3.7}]},"mark":{"type":"tick","orient":"vertical","size":10,"thickness":2,"color":"black"},
"encoding":{"x":{"field":"k","type":"quantitative","scale":{"domain":[-91.25,258.75],"nice":false,"zero":false},"axis":null},"y":{"field":"l","type":"quantitative","scale":{"domain":[0.9,53],"reverse":true,"nice":false,"zero":false},"axis":null}}},
{"data":{"name":"arrows"},"mark":{"type":"line","color":"black","strokeWidth":1.3},
"encoding":{"x":{"field":"k","type":"quantitative","scale":{"domain":[-91.25,258.75],"nice":false,"zero":false},"axis":null},"y":{"field":"l","type":"quantitative","scale":{"domain":[0.9,53],"reverse":true,"nice":false,"zero":false},"axis":null},"detail":{"field":"g"},"order":{"field":"o"}}},
{"data":{"values":[{"k":6.25,"l":4.7,"t":"IFNAR2"},{"k":98.1,"l":4.7,"t":"IFNAR1"},{"k":40,"l":9.37,"t":"IL10RB"},{"k":175,"l":7.6,"t":"IFNGR2"}]},"mark":{"type":"text","align":"right","baseline":"middle","fontSize":15,"color":"#222222"},
"encoding":{"x":{"field":"k","type":"quantitative","scale":{"domain":[-91.25,258.75],"nice":false,"zero":false},"axis":null},"y":{"field":"l","type":"quantitative","scale":{"domain":[0.9,53],"reverse":true,"nice":false,"zero":false},"axis":null},"text":{"field":"t"}}},
{"data":{"values":[{"k":142.5,"k2":169.3,"l":11.27,"l2":45.43},{"k":200,"k2":226.9,"l":11.27,"l2":45.43}]},"mark":{"type":"rect","color":"#64c8f0","opacity":0.35},
"encoding":{"x":{"field":"k","type":"quantitative","scale":{"domain":[-91.25,258.75],"nice":false,"zero":false},"axis":null},"x2":{"field":"k2"},"y":{"field":"l","type":"quantitative","scale":{"domain":[0.9,53],"reverse":true,"nice":false,"zero":false},"axis":null},"y2":{"field":"l2"}}}
]}
]
}
